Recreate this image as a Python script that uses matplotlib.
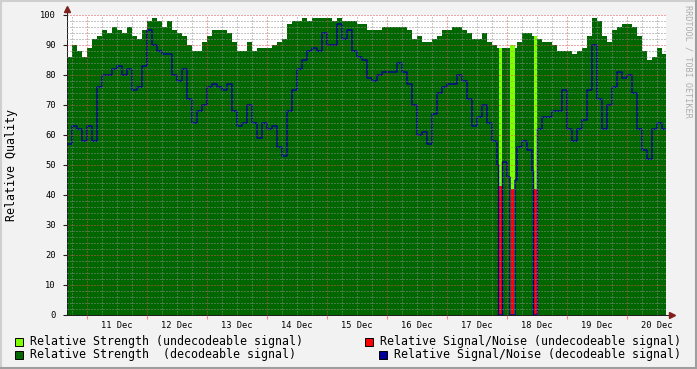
import numpy as np
import matplotlib
matplotlib.use("Agg")
import matplotlib.pyplot as plt
from matplotlib.lines import Line2D
from matplotlib.patches import Rectangle

# two-hour buckets, hours counted from Dec 10 16:00
strength = [86, 90, 88, 86, 89, 92, 93, 95, 94, 96, 95, 94, 96, 93, 92, 95, 98, 99, 98, 96,
            98, 95, 94, 93, 90, 88, 88, 91, 93, 95, 95, 95, 94, 91, 88, 88, 91, 88, 89, 89,
            89, 90, 91, 92, 97, 98, 98, 99, 98, 99, 99, 99, 99, 98, 99, 98, 98, 98, 97, 97,
            95, 95, 95, 96, 96, 96, 96, 96, 95, 92, 93, 91, 91, 92, 93, 95, 95, 96, 96, 95,
            94, 92, 92, 94, 91, 90, 89, 89, 89, 89, 91, 94, 94, 93, 92, 91, 91, 90, 88, 88,
            88, 87, 88, 89, 93, 99, 98, 93, 91, 95, 96, 97, 97, 96, 93, 88, 85, 86, 89, 87]
snr = [57, 63, 62, 58, 63, 58, 76, 80, 80, 82, 83, 80, 82, 75, 76, 83, 95, 90, 88, 87,
       87, 80, 78, 82, 72, 64, 68, 70, 76, 77, 76, 75, 77, 68, 63, 64, 70, 64, 59, 64,
       62, 63, 56, 53, 68, 75, 82, 85, 88, 89, 88, 94, 90, 90, 97, 92, 95, 88, 86, 85,
       79, 78, 80, 81, 81, 81, 84, 81, 77, 70, 60, 61, 57, 67, 74, 76, 77, 77, 80, 78,
       72, 63, 66, 70, 64, 58, 50, 51, 46, 45, 56, 58, 55, 48, 62, 66, 66, 68, 68, 75,
       62, 58, 62, 65, 75, 90, 72, 62, 70, 76, 81, 79, 80, 74, 62, 55, 52, 62, 64, 62]

# undecodeable periods: centre hour, duration, strength, signal/noise
bad_hour = [173.4, 178.2, 187.4]
bad_len = [1.4, 2.2, 1.4]
bad_snr_len = [1.0, 1.5, 1.0]
bad_strength = [89, 90, 93]
bad_snr = [43, 42, 42]

day_labels = ['11 Dec', '12 Dec', '13 Dec', '14 Dec', '15 Dec',
              '16 Dec', '17 Dec', '18 Dec', '19 Dec', '20 Dec']

GREEN = '#006600'
LIME = '#80ff00'
RED = '#ff0000'
BLUE = '#000099'
BACK = (0.95, 0.95, 0.95)
GRID = (0.56, 0.56, 0.56, 0.75)
MGRID = (0.87, 0.31, 0.31, 0.6)
ARROW = (0.5, 0.12, 0.12)
AXIS = (0.12, 0.12, 0.12)
MONO = 'DejaVu Sans Mono'

W, H = 697, 369
fig = plt.figure(figsize=(W / 100, H / 100), dpi=100, facecolor=BACK)
ax = fig.add_axes([67 / W, 54 / H, 599 / W, 300 / H])
ax.set_facecolor('white')

edges = np.arange(0, 2 * len(strength) + 1, 2)
ax.stairs(strength, edges, fill=True, color=GREEN, linewidth=0)

# snr line on a fine grid, dropping to zero while the signal was undecodeable
fine = np.arange(0, edges[-1] + 0.01, 0.2)
mid = (fine[:-1] + fine[1:]) / 2
snr_line = np.array(snr, dtype=float)[(mid // 2).astype(int)]
for h, w in zip(bad_hour, bad_snr_len):
    snr_line[np.abs(mid - h) < w / 2 + 0.3] = 0
ax.bar(bad_hour, bad_strength, width=bad_len, color=LIME, linewidth=0, zorder=1.2)
ax.bar(bad_hour, bad_snr, width=bad_snr_len, color=RED, linewidth=0, zorder=1.3)
ax.stairs(snr_line, fine, baseline=None, color=BLUE, linewidth=1.0, zorder=1.5)

ax.set_xlim(0, 239.6)
ax.set_ylim(0, 100)
ax.set_xticks(np.arange(8, 240, 24))
ax.set_xticks(np.arange(2, 240, 6), minor=True)
ax.set_yticks(np.arange(0, 101, 10))
ax.set_yticks(np.arange(0, 101, 2), minor=True)
ax.set_axisbelow(False)
ax.grid(which='minor', color=GRID, linestyle=(0, (1, 2)), linewidth=0.72)
ax.grid(which='major', color=MGRID, linestyle=(0, (1, 2)), linewidth=0.72)
ax.tick_params(which='minor', length=0)
ax.tick_params(axis='x', which='major', length=3, color=MGRID, labelbottom=False)
ax.tick_params(axis='y', which='major', length=3, color=AXIS, pad=5,
               labelsize=6.3, labelfontfamily=MONO)

for s in ['top', 'right']:
    ax.spines[s].set_visible(False)
for s in ['left', 'bottom']:
    ax.spines[s].set_color(AXIS)
    ax.spines[s].set_linewidth(0.72)

# axis arrows
ax.plot([0, 0], [1, 1 + 3 / 300], color=AXIS, lw=0.72, transform=ax.transAxes, clip_on=False)
ax.plot(0, 1 + 6 / 300, marker='^', ms=4.5, color=ARROW, mec=ARROW,
        transform=ax.transAxes, clip_on=False)
ax.plot([1, 1 + 3 / 599], [0, 0], color=AXIS, lw=0.72, transform=ax.transAxes, clip_on=False)
ax.plot(1 + 6 / 599, 0, marker='>', ms=4.5, color=ARROW, mec=ARROW,
        transform=ax.transAxes, clip_on=False)

for i, lab in enumerate(day_labels):
    ax.text(20 + 24 * i, -10 / 300, lab, transform=ax.get_xaxis_transform(),
            ha='center', va='center', fontsize=6.3, family=MONO)

fig.text(12 / W, 1 - 165 / H, 'Relative Quality', rotation=90, ha='center', va='center',
         fontsize=8.4, family=MONO)
fig.text(688 / W, 1 - 5 / H, 'RRDTOOL / TOBI OETIKER', rotation=270, ha='center', va='top',
         fontsize=6.1, family=MONO, color=(0.68, 0.68, 0.68))

# legend
legend = [(15, 341.5, 30, LIME, 'Relative Strength (undecodeable signal)'),
          (15, 354.5, 30, GREEN, 'Relative Strength  (decodeable signal)'),
          (365, 341.5, 380, RED, 'Relative Signal/Noise (undecodeable signal)'),
          (379, 354.5, 394, BLUE, 'Relative Signal/Noise (decodeable signal)')]
for bx, by, tx, col, lab in legend:
    fig.add_artist(Rectangle((bx / W, 1 - (by + 4) / H), 8 / W, 8 / H, facecolor=col,
                             edgecolor='black', linewidth=0.7, transform=fig.transFigure))
    fig.text(tx / W, 1 - by / H, lab, ha='left', va='center', fontsize=8.4, family=MONO)

# border shading
fig.add_artist(Line2D([0, 1], [1 - 1 / H, 1 - 1 / H], color=(0.81, 0.81, 0.81), lw=1.5))
fig.add_artist(Line2D([1 / W, 1 / W], [0, 1], color=(0.81, 0.81, 0.81), lw=1.5))
fig.add_artist(Line2D([0, 1], [1 / H, 1 / H], color=(0.62, 0.62, 0.62), lw=1.5))
fig.add_artist(Line2D([1 - 1 / W, 1 - 1 / W], [0, 1], color=(0.62, 0.62, 0.62), lw=1.5))

fig.savefig('out.png', dpi=100, facecolor=BACK)
